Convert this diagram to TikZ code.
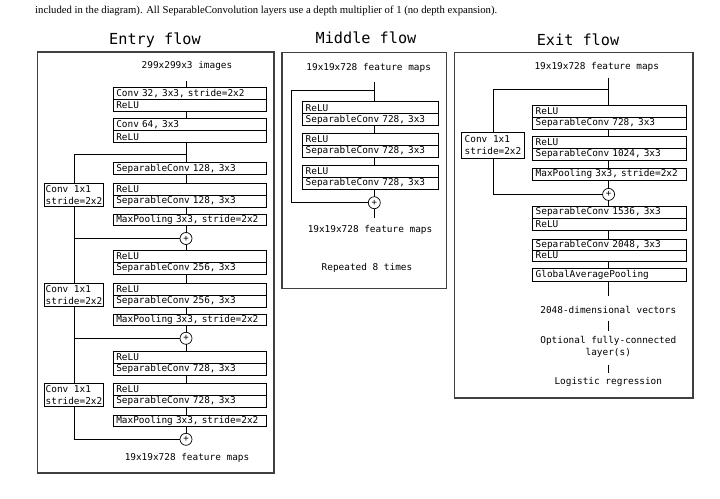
\documentclass[tikz,border=0pt]{standalone}
\usepackage{fontspec}
\setmainfont{Liberation Serif}
\newfontfamily\monofont{DejaVu Sans Mono}
\tikzset{
  outerbox/.style={draw=black!75, line width=1.1pt},
  cell/.style={draw, line width=0.7pt, anchor=north west, inner xsep=3pt, inner ysep=0pt, outer sep=0pt,
    minimum height=12pt, text width=#1, align=left, font=\monofont\fontsize{9.4}{11}\selectfont},
  shortcut/.style={draw, line width=0.7pt, inner xsep=1.5pt, inner ysep=0pt, outer sep=0pt, align=left,
    font=\monofont\fontsize{9.4}{11.6}\selectfont},
  plus/.style={circle, draw, line width=0.7pt, minimum size=12pt, inner sep=0pt, outer sep=0pt,
    font=\monofont\fontsize{9}{9}\selectfont},
  label/.style={inner sep=1pt, align=center, font=\monofont\fontsize{9.4}{11.8}\selectfont},
  title/.style={inner sep=0pt, font=\monofont\fontsize{15.2}{16}\selectfont},
  conn/.style={draw, line width=0.7pt},
}
\begin{document}
\begin{tikzpicture}[x=1pt, y=-1pt]
\useasboundingbox (0,0) rectangle (720,498);

% caption
\node[anchor=west, inner sep=0pt] (cap) at (35,11)
  {\resizebox{462pt}{!}{included in the diagram). All SeparableConvolution layers use a depth multiplier of 1 (no depth expansion).}};

% titles
\node[title] (tEntry) at (155,40) {Entry flow};
\node[title] (tMiddle) at (366,38) {Middle flow};
\node[title] (tExit) at (578,40) {Exit flow};

% outer boxes
\draw[outerbox] (37.3,52) rectangle (274,473);
\draw[outerbox] (282,52.7) rectangle (446.7,288.3);
\draw[outerbox] (454.3,52.7) rectangle (693,398);

% ================= Entry flow =================
\node[label] (eIn) at (187,66) {299x299x3 images};
\coordinate (eTop) at (186,81);
\node[plus] (p1) at (186,238.5) {+};
\node[plus] (p2) at (186,338.3) {+};
\node[plus] (p3) at (186,439.3) {+};

\node[cell=147.4pt] (e1a) at (113.3,87.3) {Conv 32, 3x3, stride=2x2};
\node[cell=147.4pt] (e1b) at (e1a.south west) {ReLU};
\node[cell=147.4pt] (e2a) at (113.3,118.7) {Conv 64, 3x3};
\node[cell=147.4pt] (e2b) at (e2a.south west) {ReLU};
\node[cell=147.4pt, minimum height=11.5pt] (e3) at (113.3,162.7) {SeparableConv 128, 3x3};
\node[cell=147.4pt] (e4a) at (113.3,183.3) {ReLU};
\node[cell=147.4pt] (e4b) at (e4a.south west) {SeparableConv 128, 3x3};
\node[cell=147.4pt, minimum height=11.7pt] (e5) at (113.3,214) {MaxPooling 3x3, stride=2x2};

\node[cell=147.4pt] (e6a) at (113.3,250) {ReLU};
\node[cell=147.4pt] (e6b) at (e6a.south west) {SeparableConv 256, 3x3};
\node[cell=147.4pt] (e7a) at (113.3,283.3) {ReLU};
\node[cell=147.4pt] (e7b) at (e7a.south west) {SeparableConv 256, 3x3};
\node[cell=147.4pt, minimum height=11.7pt] (e8) at (113.3,314) {MaxPooling 3x3, stride=2x2};

\node[cell=147.4pt] (e9a) at (113.3,351) {ReLU};
\node[cell=147.4pt] (e9b) at (e9a.south west) {SeparableConv 728, 3x3};
\node[cell=147.4pt] (e10a) at (113.3,383.3) {ReLU};
\node[cell=147.4pt] (e10b) at (e10a.south west) {SeparableConv 728, 3x3};
\node[cell=147.4pt, minimum height=11.7pt] (e11) at (113.3,415) {MaxPooling 3x3, stride=2x2};

\node[label] (eOut) at (187,458.3) {19x19x728 feature maps};

\node[shortcut, minimum height=23.4pt, minimum width=59pt] (c1) at (74,195) {Conv 1x1\\stride=2x2};
\node[shortcut, minimum height=23.4pt, minimum width=59pt] (c2) at (74,295) {Conv 1x1\\stride=2x2};
\node[shortcut, minimum height=23.4pt, minimum width=59pt] (c3) at (74,395) {Conv 1x1\\stride=2x2};

\coordinate (ej1) at (186,154);
\draw[conn] (eTop) -- (e1a.north -| p1);
\draw[conn] (e1b.south -| p1) -- (e2a.north -| p1);
\draw[conn] (e2b.south -| p1) -- (e3.north -| p1);
\draw[conn] (ej1) -| (c1.north);
\draw[conn] (e3.south -| p1) -- (e4a.north -| p1);
\draw[conn] (e4b.south -| p1) -- (e5.north -| p1);
\draw[conn] (e5.south -| p1) -- (p1.north);
\draw[conn] (c1.south) |- (p1.west);
\draw[conn] (p1.west) -| (c2.north);
\draw[conn] (p1.south) -- (e6a.north -| p1);
\draw[conn] (e6b.south -| p1) -- (e7a.north -| p1);
\draw[conn] (e7b.south -| p1) -- (e8.north -| p1);
\draw[conn] (e8.south -| p1) -- (p2.north);
\draw[conn] (c2.south) |- (p2.west);
\draw[conn] (p2.west) -| (c3.north);
\draw[conn] (p2.south) -- (e9a.north -| p2);
\draw[conn] (e9b.south -| p2) -- (e10a.north -| p2);
\draw[conn] (e10b.south -| p2) -- (e11.north -| p2);
\draw[conn] (e11.south -| p3) -- (p3.north);
\draw[conn] (c3.south) |- (p3.west);

% ================= Middle flow =================
\node[label] (mIn) at (368.7,68.3) {19x19x728 feature maps};
\coordinate (mTop) at (374.3,82.3);
\coordinate (mj) at (374.3,90);
\node[plus] (pm) at (374.3,202.7) {+};
\coordinate (mLeft) at (291.7,202.7);
\coordinate (mBot) at (374.3,218.3);

\node[cell=129.6pt] (m1a) at (302.7,101.7) {ReLU};
\node[cell=129.6pt] (m1b) at (m1a.south west) {SeparableConv 728, 3x3};
\node[cell=129.6pt] (m2a) at (302.7,133.3) {ReLU};
\node[cell=129.6pt] (m2b) at (m2a.south west) {SeparableConv 728, 3x3};
\node[cell=129.6pt] (m3a) at (302.7,165) {ReLU};
\node[cell=129.6pt] (m3b) at (m3a.south west) {SeparableConv 728, 3x3};

\node[label] (mOut) at (370,230) {19x19x728 feature maps};
\node[label] (mRep) at (367,268.3) {Repeated 8 times};

\draw[conn] (mTop) -- (m1a.north -| pm);
\draw[conn] (mj) -| (mLeft) -- (pm.west);
\draw[conn] (m1b.south -| pm) -- (m2a.north -| pm);
\draw[conn] (m2b.south -| pm) -- (m3a.north -| pm);
\draw[conn] (m3b.south -| pm) -- (pm.north);
\draw[conn] (pm.south) -- (mBot);

% ================= Exit flow =================
\node[label] (xIn) at (596.8,66.9) {19x19x728 feature maps};
\coordinate (xTop) at (608.6,78);
\coordinate (xj) at (608.6,89.8);
\node[plus] (px) at (608.6,194.4) {+};

\node[cell=147.5pt] (x1a) at (532.7,105) {ReLU};
\node[cell=147.5pt] (x1b) at (x1a.south west) {SeparableConv 728, 3x3};
\node[cell=147.5pt] (x2a) at (532.7,136) {ReLU};
\node[cell=147.5pt] (x2b) at (x2a.south west) {SeparableConv 1024, 3x3};
\node[cell=147.5pt, minimum height=12.5pt] (x3) at (532.7,168.1) {MaxPooling 3x3, stride=2x2};

\node[shortcut, minimum height=26pt, minimum width=62.4pt] (xc) at (493,145) {Conv 1x1\\stride=2x2};

\node[cell=147.5pt] (x4a) at (532.7,205.9) {SeparableConv 1536, 3x3};
\node[cell=147.5pt] (x4b) at (x4a.south west) {ReLU};
\node[cell=147.5pt, minimum height=11pt] (x5a) at (532.7,239) {SeparableConv 2048, 3x3};
\node[cell=147.5pt, minimum height=11pt] (x5b) at (x5a.south west) {ReLU};
\node[cell=147.5pt, minimum height=12.5pt] (x6) at (532.7,268.7) {GlobalAveragePooling};

\coordinate (xVecTop) at (608.6,295.7);
\node[label] (xVec) at (608.3,309.9) {2048-dimensional vectors};
\coordinate (xL1a) at (608.6,321);
\coordinate (xL1b) at (608.6,331.1);
\node[label] (xOpt) at (608.3,347.1) {Optional fully-connected\\layer(s)};
\coordinate (xL2a) at (608.6,364.9);
\coordinate (xL2b) at (608.6,373.3);
\node[label] (xLog) at (608.3,381.7) {Logistic regression};

\draw[conn] (xTop) -- (x1a.north -| px);
\draw[conn] (xj) -| (xc.north);
\draw[conn] (x1b.south -| px) -- (x2a.north -| px);
\draw[conn] (x2b.south -| px) -- (x3.north -| px);
\draw[conn] (x3.south -| px) -- (px.north);
\draw[conn] (xc.south) |- (px.west);
\draw[conn] (px.south) -- (x4a.north -| px);
\draw[conn] (x4b.south -| px) -- (x5a.north -| px);
\draw[conn] (x5b.south -| px) -- (x6.north -| px);
\draw[conn] (x6.south -| px) -- (xVecTop);
\draw[conn] (xL1a) -- (xL1b);
\draw[conn] (xL2a) -- (xL2b);
\end{tikzpicture}
\end{document}
